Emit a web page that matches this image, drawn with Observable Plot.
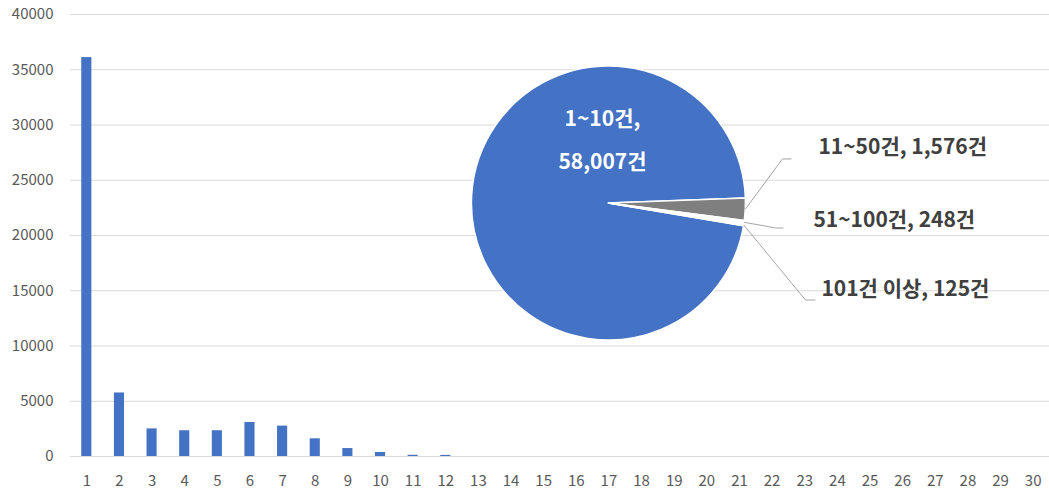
<!DOCTYPE html>
<html><head><meta charset="utf-8">
<script src="https://cdn.jsdelivr.net/npm/d3@7"></script>
<script src="https://cdn.jsdelivr.net/npm/@observablehq/plot@0.6"></script>
<style>html,body{margin:0;padding:0;background:#fff}</style>
</head><body><div id="chart"></div>
<script>
// ---- data ----
const categories = [1,2,3,4,5,6,7,8,9,10,11,12,13,14,15,16,17,18,19,20,21,22,23,24,25,26,27,28,29,30];
const counts = [36100,5750,2500,2330,2330,3080,2750,1600,720,360,110,100,0,0,0,0,0,0,0,0,0,0,0,0,0,0,0,0,0,0];
const yTicks = [0,5000,10000,15000,20000,25000,30000,35000,40000];
const pieLabels = ["1~10건","11~50건","51~100건","101건 이상"];
const pieValues = [58007,1576,248,125];

// ---- style / layout ----
const barColor = "#4472C4";
const pieColors = ["#4472C4","#7F7F7F","#FFFFFF","#FFFFFF"];
const pieCenterCategory = 17, pieCenterValue = 22900, pieRadius = 137;
const pieStartDeg = 99.6;
const leaderElbow = [[174,-44],[167,25],[197,97]];
const leaderTail = [9,8,10];
const labelAnchor = [[210,-58],[205,15],[213,84]];
const innerLabelPos = [[-6,-86],[-6,-43]];
const labelFontSize = 21;

const bars = categories.map((c,i)=>({cat:c, value:counts[i]}));
const fmt = d3.format(",");

function pieMark(index, scales, values, dimensions, context) {
  const bw = typeof scales.x.bandwidth === "function" ? scales.x.bandwidth() : 0;
  const cx = scales.x(pieCenterCategory) + bw/2;
  const cy = scales.y(pieCenterValue);
  const g = d3.create("svg:g").attr("transform", `translate(${cx},${cy})`);
  const a0 = pieStartDeg*Math.PI/180;
  const arcs = d3.pie().sort(null).value(d=>d).startAngle(a0).endAngle(a0+2*Math.PI)(pieValues);
  const arc = d3.arc().innerRadius(0).outerRadius(pieRadius);
  g.append("g").selectAll("path").data(arcs).join("path")
    .attr("d", arc).attr("fill",(d,i)=>pieColors[i])
    .attr("stroke","#fff").attr("stroke-width",1.5).attr("stroke-linejoin","round");
  // inner label
  const inner = [pieLabels[0]+",", fmt(pieValues[0])+"건"];
  g.append("g").selectAll("text").data(inner).join("text")
    .attr("x",(d,i)=>innerLabelPos[i][0]).attr("y",(d,i)=>innerLabelPos[i][1])
    .attr("text-anchor","middle").attr("dominant-baseline","central")
    .attr("fill","#fff").attr("font-weight","bold").attr("font-size",labelFontSize)
    .text(d=>d);
  // leader lines + outer labels
  arcs.slice(1).forEach((a,k)=>{
    const mid = (a.startAngle+a.endAngle)/2;
    const sx = pieRadius*Math.sin(mid), sy = -pieRadius*Math.cos(mid);
    const [ex,ey] = leaderElbow[k];
    g.append("path").attr("d",`M${sx},${sy}L${ex},${ey}H${ex+leaderTail[k]}`)
      .attr("fill","none").attr("stroke","#A6A6A6").attr("stroke-width",1);
    g.append("text").attr("x",labelAnchor[k][0]).attr("y",labelAnchor[k][1])
      .attr("text-anchor","start").attr("dominant-baseline","central").attr("fill","#404040")
      .attr("font-weight","bold").attr("font-size",labelFontSize)
      .text(`${pieLabels[k+1]}, ${fmt(pieValues[k+1])}건`);
  });
  return g.node();
}

const chart = Plot.plot({
  width: 1049, height: 489,
  marginTop: 14, marginBottom: 33, marginLeft: 70, marginRight: 0,
  style: {fontFamily: "'Noto Sans CJK KR', 'Noto Sans', sans-serif", fontSize: "15px", color: "#595959", background: "#fff"},
  x: {type: "band", domain: categories, paddingInner: 0.69, paddingOuter: 0.345, round: false, label: null},
  y: {domain: [0, 40000], label: null},
  marks: [
    Plot.gridY(yTicks, {stroke: "#D9D9D9", strokeOpacity: 1, strokeWidth: 1}),
    Plot.barY(bars, {x: "cat", y: "value", fill: barColor}),
    Plot.axisX({tickSize: 0, tickPadding: 19, fontSize: 15, fill: "#595959"}),
    Plot.axisY(yTicks, {tickSize: 0, tickPadding: 17, fontSize: 15, fill: "#595959", tickFormat: d=>String(d)}),
    pieMark
  ]
});
document.getElementById("chart").appendChild(chart);
</script>
</body></html>
